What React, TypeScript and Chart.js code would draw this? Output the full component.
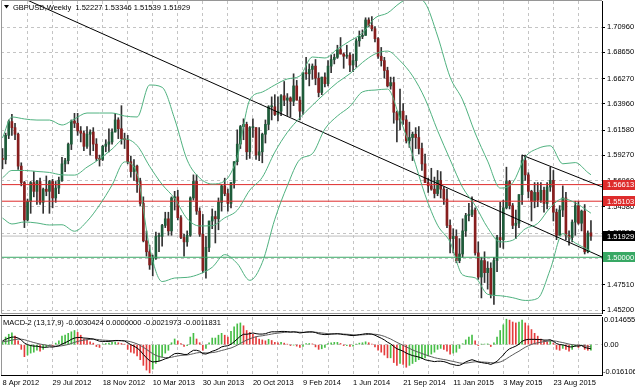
import { useEffect, useRef } from "react";
import { Chart, registerables } from "chart.js";

Chart.register(...registerables);

const FONT = '"Liberation Sans", Arial, sans-serif';
const FS = 7.5;

const symbolName = "GBPUSD";
const timeframe = "Weekly";

// weekly candles, first bar = week of 8 Apr 2012
const opens = [
  1.5900,1.5890,1.6110,1.6235,1.6180,1.6120,1.5830,1.5680,1.5340,1.5510,
  1.5680,1.5600,1.5690,1.5500,1.5620,1.5600,1.5690,1.5540,1.5630,1.5700,
  1.5850,1.5880,1.6030,1.6240,1.6220,1.6150,1.6130,1.6010,1.6120,1.6140,
  1.6030,1.5900,1.5890,1.6010,1.6030,1.6050,1.6140,1.6250,1.6170,1.6080,
  1.6070,1.5870,1.5780,1.5830,1.5690,1.5490,1.5150,1.5050,1.4930,1.4990,
  1.5190,1.5190,1.5290,1.5350,1.5240,1.5540,1.5550,1.5360,1.5180,1.5140,
  1.5200,1.5540,1.5690,1.5420,1.5210,1.4880,1.5090,1.5330,1.5370,1.5350,
  1.5500,1.5650,1.5580,1.5490,1.5680,1.5870,1.6030,1.6190,1.6210,1.5960,
  1.6180,1.6180,1.5930,1.5960,1.6120,1.6210,1.6370,1.6370,1.6300,1.6330,
  1.6470,1.6430,1.6450,1.6420,1.6560,1.6430,1.6330,1.6680,1.6670,1.6710,
  1.6740,1.6630,1.6500,1.6640,1.6580,1.6740,1.6800,1.6820,1.6890,1.6850,
  1.6830,1.6840,1.6750,1.6790,1.6970,1.7010,1.7020,1.7160,1.7110,1.7080,
  1.6990,1.6830,1.6790,1.6700,1.6560,1.6590,1.6320,1.6250,1.6330,1.6250,
  1.6060,1.6090,1.6120,1.6090,1.5990,1.5850,1.5680,1.5650,1.5620,1.5580,
  1.5700,1.5620,1.5530,1.5290,1.5170,1.5190,1.4970,1.5030,1.5240,1.5380,
  1.5390,1.5430,1.5040,1.4820,1.4970,1.4860,1.4900,1.4660,1.4970,1.5180,
  1.5160,1.5450,1.5690,1.5470,1.5290,1.5310,1.5570,1.5880,1.5750,1.5600,
  1.5510,1.5590,1.5520,1.5610,1.5490,1.5640,1.5700,1.5410,1.5200,1.5430,
  1.5540,1.5200,1.5180,1.5320,1.5470,1.5310,1.5420,1.5050,1.52227,
];
const highs = [
  1.5990,1.6130,1.6250,1.6300,1.6220,1.6130,1.5860,1.5690,1.5530,1.5690,
  1.5780,1.5700,1.5720,1.5630,1.5740,1.5700,1.5710,1.5690,1.5730,1.5910,
  1.5900,1.6040,1.6250,1.6310,1.6310,1.6190,1.6150,1.6190,1.6160,1.6180,
  1.6080,1.5930,1.6020,1.6070,1.6170,1.6170,1.6310,1.6270,1.6380,1.6130,
  1.6110,1.5920,1.5890,1.5840,1.5720,1.5550,1.5240,1.5110,1.5020,1.5230,
  1.5220,1.5300,1.5410,1.5410,1.5550,1.5600,1.5610,1.5380,1.5210,1.5240,
  1.5550,1.5750,1.5750,1.5450,1.5390,1.5190,1.5330,1.5440,1.5420,1.5540,
  1.5660,1.5720,1.5620,1.5680,1.5870,1.6160,1.6200,1.6260,1.6230,1.6190,
  1.6260,1.6180,1.6180,1.6130,1.6250,1.6380,1.6460,1.6480,1.6460,1.6480,
  1.6600,1.6490,1.6460,1.6670,1.6610,1.6460,1.6680,1.6820,1.6760,1.6760,
  1.6800,1.6680,1.6640,1.6680,1.6790,1.6840,1.6850,1.6930,1.7000,1.6860,
  1.6930,1.6860,1.6850,1.6990,1.7060,1.7070,1.7180,1.7180,1.7190,1.7100,
  1.7000,1.6910,1.6820,1.6730,1.6640,1.6640,1.6330,1.6530,1.6400,1.6290,
  1.6230,1.6140,1.6180,1.6190,1.6040,1.5940,1.5720,1.5810,1.5730,1.5790,
  1.5780,1.5640,1.5620,1.5340,1.5260,1.5250,1.5170,1.5350,1.5400,1.5490,
  1.5550,1.5450,1.5140,1.5000,1.5050,1.4960,1.4950,1.5000,1.5200,1.5500,
  1.5520,1.5820,1.5700,1.5490,1.5430,1.5570,1.5930,1.5930,1.5770,1.5610,
  1.5680,1.5680,1.5680,1.5640,1.5680,1.5820,1.5790,1.5440,1.5470,1.5650,
  1.5590,1.5240,1.5340,1.5510,1.5510,1.5430,1.5480,1.5240,1.53346,
];
const lows = [
  1.5805,1.5850,1.6080,1.6110,1.6070,1.5800,1.5650,1.5270,1.5330,1.5400,
  1.5550,1.5480,1.5480,1.5400,1.5560,1.5400,1.5450,1.5500,1.5580,1.5690,
  1.5780,1.5850,1.5980,1.6180,1.6110,1.6050,1.5970,1.5990,1.5930,1.5970,
  1.5880,1.5830,1.5880,1.5960,1.5960,1.6030,1.6140,1.6080,1.6030,1.5990,
  1.5850,1.5730,1.5700,1.5590,1.5470,1.5140,1.5010,1.4890,1.4830,1.4980,
  1.5050,1.5100,1.5270,1.5200,1.5200,1.5430,1.5340,1.5170,1.5010,1.5100,
  1.5190,1.5520,1.5390,1.5190,1.4860,1.4810,1.5050,1.5260,1.5130,1.5250,
  1.5420,1.5560,1.5420,1.5450,1.5630,1.5840,1.5990,1.6070,1.5890,1.5900,
  1.6090,1.5890,1.5880,1.5860,1.6040,1.6160,1.6250,1.6290,1.6240,1.6290,
  1.6380,1.6290,1.6280,1.6380,1.6430,1.6250,1.6300,1.6620,1.6560,1.6620,
  1.6570,1.6460,1.6480,1.6550,1.6560,1.6680,1.6760,1.6810,1.6850,1.6720,
  1.6810,1.6690,1.6690,1.6730,1.6920,1.6990,1.7020,1.7100,1.7060,1.6960,
  1.6810,1.6740,1.6630,1.6550,1.6530,1.6220,1.6050,1.6160,1.6210,1.6040,
  1.6000,1.5880,1.5990,1.5940,1.5790,1.5680,1.5590,1.5610,1.5540,1.5560,
  1.5540,1.5480,1.5270,1.5040,1.5040,1.4950,1.4950,1.5000,1.5190,1.5330,
  1.5370,1.5020,1.4800,1.4630,1.4770,1.4710,1.4630,1.4570,1.4870,1.5090,
  1.5080,1.5440,1.5440,1.5260,1.5170,1.5270,1.5480,1.5700,1.5540,1.5330,
  1.5450,1.5460,1.5500,1.5410,1.5440,1.5600,1.5330,1.5160,1.5200,1.5370,
  1.5160,1.5110,1.5140,1.5200,1.5300,1.5240,1.5030,1.5040,1.51539,
];
const closes = [
  1.5890,1.6110,1.6235,1.6180,1.6120,1.5830,1.5680,1.5340,1.5510,1.5680,
  1.5600,1.5690,1.5500,1.5620,1.5600,1.5690,1.5540,1.5630,1.5700,1.5850,
  1.5880,1.6030,1.6240,1.6220,1.6150,1.6130,1.6010,1.6120,1.6140,1.6030,
  1.5900,1.5890,1.6010,1.6030,1.6050,1.6140,1.6250,1.6170,1.6080,1.6070,
  1.5870,1.5780,1.5830,1.5690,1.5490,1.5150,1.5050,1.4930,1.4990,1.5190,
  1.5190,1.5290,1.5350,1.5240,1.5540,1.5550,1.5360,1.5180,1.5140,1.5200,
  1.5540,1.5690,1.5420,1.5210,1.4880,1.5090,1.5330,1.5370,1.5350,1.5500,
  1.5650,1.5580,1.5490,1.5680,1.5870,1.6030,1.6190,1.6210,1.5960,1.6180,
  1.6180,1.5930,1.5960,1.6120,1.6210,1.6370,1.6370,1.6300,1.6330,1.6470,
  1.6430,1.6450,1.6420,1.6560,1.6430,1.6330,1.6680,1.6670,1.6710,1.6740,
  1.6630,1.6500,1.6640,1.6580,1.6740,1.6800,1.6820,1.6890,1.6850,1.6830,
  1.6840,1.6750,1.6790,1.6970,1.7010,1.7020,1.7160,1.7110,1.7080,1.6990,
  1.6830,1.6790,1.6700,1.6560,1.6590,1.6320,1.6250,1.6330,1.6250,1.6060,
  1.6090,1.6120,1.6090,1.5990,1.5850,1.5680,1.5650,1.5620,1.5580,1.5700,
  1.5620,1.5530,1.5290,1.5170,1.5190,1.4970,1.5030,1.5240,1.5380,1.5390,
  1.5430,1.5040,1.4820,1.4970,1.4860,1.4900,1.4660,1.4970,1.5180,1.5160,
  1.5450,1.5690,1.5470,1.5290,1.5310,1.5570,1.5880,1.5750,1.5600,1.5510,
  1.5590,1.5520,1.5610,1.5490,1.5640,1.5700,1.5410,1.5200,1.5430,1.5540,
  1.5200,1.5180,1.5320,1.5470,1.5310,1.5420,1.5050,1.5220,1.51929,
];

// Bollinger bands read at these bars
const bandBars = [0,3,7,11,15,19,23,27,31,35,39,43,47,51,55,59,63,67,71,75,79,83,87,91,95,99,103,107,111,115,119,123,127,131,135,139,143,147,151,155,159,163,167,171,175,179,183,187,188];
const bbUpper = [1.6086,1.6277,1.6259,1.6249,1.6249,1.6204,1.6259,1.6313,1.6313,1.6313,1.6286,1.6277,1.6568,1.6547,1.6259,1.5885,1.5722,1.5667,1.5694,1.5913,1.6432,1.6504,1.6568,1.6623,1.6650,1.6823,1.6814,1.6896,1.6969,1.7041,1.7178,1.7223,1.7315,1.7369,1.7315,1.7014,1.6640,1.6432,1.6131,1.5875,1.5630,1.5678,1.5911,1.5990,1.6015,1.5851,1.5862,1.5772,1.5751];
const bbMiddle = [1.5722,1.5790,1.5790,1.5781,1.5772,1.5750,1.5748,1.5820,1.5894,1.5985,1.6077,1.6017,1.5828,1.5663,1.5535,1.5351,1.5285,1.5288,1.5359,1.5428,1.5611,1.5728,1.5957,1.6137,1.6270,1.6383,1.6491,1.6591,1.6671,1.6773,1.6850,1.6877,1.6789,1.6651,1.6442,1.6153,1.5889,1.5636,1.5472,1.5269,1.5140,1.5155,1.5259,1.5308,1.5452,1.5533,1.5496,1.5421,1.5401];
const bbLower = [1.5357,1.5303,1.5321,1.5312,1.5294,1.5296,1.5237,1.5327,1.5475,1.5657,1.5868,1.5757,1.5088,1.4779,1.4811,1.4817,1.4848,1.4909,1.5024,1.4943,1.4790,1.4952,1.5346,1.5651,1.5890,1.5943,1.6168,1.6286,1.6373,1.6505,1.6522,1.6531,1.6263,1.5933,1.5569,1.5292,1.5138,1.4840,1.4813,1.4663,1.4650,1.4632,1.4607,1.4626,1.4889,1.5215,1.5130,1.5070,1.5051];

const macdHist = [
  0.0015,0.0040,0.0055,0.0062,0.0045,0.0020,-0.0025,-0.0064,-0.0055,-0.0045,
  -0.0040,-0.0030,-0.0035,-0.0025,-0.0012,-0.0005,-0.0008,0.0008,0.0020,0.0045,
  0.0050,0.0060,0.0068,0.0075,0.0065,0.0050,0.0030,0.0025,0.0015,0.0008,
  -0.0010,-0.0015,0.0003,0.0006,0.0008,0.0012,0.0014,0.0010,0.0006,0.0002,
  -0.0025,-0.0040,-0.0045,-0.0060,-0.0080,-0.0110,-0.0135,-0.0150,-0.0130,-0.0100,
  -0.0085,-0.0065,-0.0045,-0.0030,0.0010,0.0030,0.0020,0.0005,-0.0010,-0.0005,
  0.0040,0.0060,0.0030,0.0010,-0.0030,-0.0020,0.0010,0.0035,0.0035,0.0050,
  0.0060,0.0050,0.0040,0.0070,0.0095,0.0110,0.0115,0.0100,0.0075,0.0065,
  0.0055,0.0040,0.0030,0.0025,0.0020,0.0028,0.0022,0.0012,0.0010,0.0012,
  0.0008,0.0002,-0.0005,-0.0002,-0.0008,-0.0015,-0.0010,0.0005,0.0006,0.0004,
  -0.0012,-0.0025,-0.0022,-0.0015,0.0005,0.0010,0.0012,0.0012,0.0006,-0.0005,
  -0.0005,-0.0010,-0.0008,0.0003,0.0008,0.0010,0.0015,0.0010,0.0002,-0.0012,
  -0.0030,-0.0040,-0.0055,-0.0070,-0.0070,-0.0095,-0.0110,-0.0100,-0.0105,-0.0120,
  -0.0110,-0.0100,-0.0090,-0.0080,-0.0075,-0.0070,-0.0060,-0.0050,-0.0040,-0.0025,
  -0.0020,-0.0025,-0.0035,-0.0050,-0.0045,-0.0040,-0.0020,0.0005,0.0025,0.0040,
  0.0050,0.0020,-0.0005,0.0003,0.0003,0.0004,-0.0010,0.0010,0.0040,0.0075,
  0.0105,0.0135,0.0130,0.0120,0.0115,0.0120,0.0130,0.0115,0.0100,0.0080,
  0.0060,0.0045,0.0030,0.0020,0.0015,0.0020,0.0008,-0.0025,-0.0030,-0.0020,
  -0.0025,-0.0035,-0.0025,-0.0010,-0.0015,-0.0005,-0.0025,-0.0030,-0.0030,
];
const macdMain = [
  0.0020,0.0028,0.0035,0.0040,0.0040,0.0035,0.0025,0.0008,0.0000,-0.0005,
  -0.0008,-0.0008,-0.0012,-0.0014,-0.0014,-0.0012,-0.0013,-0.0010,-0.0006,0.0003,
  0.0010,0.0018,0.0028,0.0035,0.0038,0.0038,0.0035,0.0034,0.0032,0.0030,
  0.0024,0.0018,0.0017,0.0017,0.0017,0.0019,0.0022,0.0022,0.0021,0.0019,
  0.0010,0.0000,-0.0008,-0.0018,-0.0032,-0.0052,-0.0070,-0.0085,-0.0092,-0.0090,
  -0.0088,-0.0082,-0.0075,-0.0070,-0.0058,-0.0048,-0.0046,-0.0048,-0.0052,-0.0052,
  -0.0040,-0.0030,-0.0030,-0.0035,-0.0048,-0.0050,-0.0043,-0.0035,-0.0030,-0.0022,
  -0.0012,-0.0008,-0.0006,0.0002,0.0015,0.0030,0.0045,0.0055,0.0055,0.0058,
  0.0062,0.0058,0.0056,0.0056,0.0058,0.0064,0.0068,0.0068,0.0068,0.0070,
  0.0070,0.0069,0.0067,0.0068,0.0066,0.0062,0.0064,0.0067,0.0068,0.0068,
  0.0064,0.0058,0.0055,0.0053,0.0054,0.0056,0.0057,0.0058,0.0056,0.0053,
  0.0052,0.0049,0.0048,0.0050,0.0053,0.0055,0.0058,0.0058,0.0056,0.0050,
  0.0042,0.0034,0.0025,0.0013,0.0004,-0.0010,-0.0022,-0.0028,-0.0035,-0.0045,
  -0.0052,-0.0058,-0.0062,-0.0066,-0.0072,-0.0080,-0.0084,-0.0087,-0.0090,-0.0088,
  -0.0088,-0.0090,-0.0095,-0.0102,-0.0105,-0.0110,-0.0110,-0.0102,-0.0092,-0.0085,
  -0.0080,-0.0085,-0.0092,-0.0095,-0.0098,-0.0100,-0.0105,-0.0098,-0.0088,-0.0072,
  -0.0055,-0.0035,-0.0022,-0.0015,-0.0008,0.0002,0.0018,0.0025,0.0028,0.0028,
  0.0028,0.0027,0.0027,0.0024,0.0024,0.0026,0.0018,0.0006,0.0000,-0.0001,
  -0.0006,-0.0012,-0.0012,-0.0007,-0.0008,-0.0005,-0.0015,-0.0019,-0.0022,
];
const macdSignal = [
  0.0015,0.0017,0.0020,0.0024,0.0027,0.0029,0.0029,0.0026,0.0021,0.0016,
  0.0011,0.0007,0.0003,0.0000,-0.0003,-0.0005,-0.0007,-0.0008,-0.0008,-0.0006,
  -0.0003,0.0001,0.0006,0.0012,0.0017,0.0021,0.0024,0.0026,0.0028,0.0029,
  0.0028,0.0026,0.0024,0.0023,0.0022,0.0021,0.0021,0.0021,0.0021,0.0021,
  0.0019,0.0015,0.0010,0.0004,-0.0004,-0.0014,-0.0025,-0.0037,-0.0048,-0.0057,
  -0.0063,-0.0067,-0.0069,-0.0069,-0.0067,-0.0063,-0.0060,-0.0057,-0.0056,-0.0055,
  -0.0052,-0.0048,-0.0044,-0.0042,-0.0043,-0.0044,-0.0044,-0.0042,-0.0040,-0.0036,
  -0.0031,-0.0027,-0.0022,-0.0018,-0.0011,-0.0003,0.0006,0.0016,0.0024,0.0031,
  0.0037,0.0042,0.0045,0.0047,0.0050,0.0053,0.0056,0.0059,0.0061,0.0063,
  0.0065,0.0066,0.0066,0.0067,0.0067,0.0066,0.0065,0.0065,0.0066,0.0066,
  0.0066,0.0064,0.0062,0.0060,0.0058,0.0057,0.0057,0.0057,0.0057,0.0056,
  0.0055,0.0054,0.0052,0.0051,0.0051,0.0052,0.0053,0.0054,0.0055,0.0055,
  0.0053,0.0049,0.0044,0.0037,0.0030,0.0021,0.0012,0.0004,-0.0004,-0.0012,
  -0.0020,-0.0028,-0.0035,-0.0041,-0.0047,-0.0053,-0.0059,-0.0064,-0.0069,-0.0073,
  -0.0076,-0.0079,-0.0082,-0.0086,-0.0089,-0.0093,-0.0097,-0.0099,-0.0098,-0.0096,
  -0.0093,-0.0091,-0.0091,-0.0092,-0.0093,-0.0094,-0.0096,-0.0097,-0.0096,-0.0092,
  -0.0085,-0.0075,-0.0064,-0.0054,-0.0044,-0.0035,-0.0024,-0.0014,-0.0006,0.0001,
  0.0006,0.0010,0.0013,0.0016,0.0018,0.0020,0.0020,0.0018,0.0014,0.0011,
  0.0007,0.0003,0.0000,-0.0002,-0.0003,-0.0004,-0.0006,-0.0009,-0.0012,
];
const macdParams = [13, 17, 9];
const macdHeaderValues = [-0.0030424, 0.0, -0.0021973, -0.0011831];
const macdScale = [-0.016106, 0.014655];

const priceTicks = [1.452, 1.4751, 1.4989, 1.522, 1.5458, 1.5696, 1.5927, 1.6158, 1.6396, 1.6627, 1.6865, 1.7096];
const priceRange = [1.44927, 1.73327];
const redLevels = [1.56613, 1.55103];
const greenLevels = [1.5];
const currentPrice = 1.51929;

const trendA = { bars: [7.83, 191.53], prices: [1.7342, 1.5002] };
const trendB = { bars: [166, 191.53], prices: [1.593, 1.5641] };

const dateLabels = ["8 Apr 2012", "29 Jul 2012", "18 Nov 2012", "10 Mar 2013", "30 Jun 2013", "20 Oct 2013", "9 Feb 2014", "1 Jun 2014", "21 Sep 2014", "11 Jan 2015", "3 May 2015", "23 Aug 2015"];
const labelEvery = 16;
const gridEvery = 8;
const xRange = [-0.479, 191.53];

const GRID = "rgb(196,196,196)";
const BULL = "rgb(30,92,58)";
const BEAR = "rgb(135,30,30)";
const WICK = "rgb(50,50,50)";
const BAND = "rgb(80,178,128)";
const RED = "rgb(222,44,44)";
const GREEN = "rgb(56,168,100)";

export default function App() {
  const mainRef = useRef<HTMLCanvasElement>(null);
  const macdRef = useRef<HTMLCanvasElement>(null);

  useEffect(() => {
    document.body.style.margin = "0";
    const idx = closes.map((_, i) => i);
    const gridTicks: number[] = [];
    for (let v = 0; v <= xRange[1]; v += gridEvery) gridTicks.push(v);
    const font = { family: FONT, size: FS };

    const lineDs = (data: { x: number; y: number }[], color: string, order = 0) => ({
      type: "line" as const,
      data,
      borderColor: color,
      borderWidth: 1,
      pointRadius: 0,
      fill: false,
      order,
    });

    const mainDecor = {
      id: "mainDecor",
      beforeDraw(chart: any) {
        const { ctx, width, height } = chart;
        ctx.save();
        ctx.fillStyle = "#fff";
        ctx.fillRect(0, 0, width, height);
        ctx.restore();
      },
      afterDraw(chart: any) {
        const { ctx, chartArea: a } = chart;
        const y = chart.scales.y;
        ctx.save();
        ctx.strokeStyle = "rgb(150,150,150)";
        ctx.lineWidth = 1;
        ctx.beginPath();
        ctx.moveTo(a.right, a.top - 0.5);
        ctx.lineTo(a.left + 0.5, a.top - 0.5);
        ctx.lineTo(a.left + 0.5, a.bottom + 0.5);
        ctx.lineTo(a.right, a.bottom + 0.5);
        ctx.stroke();
        ctx.font = `${FS}px ${FONT}`;
        ctx.textBaseline = "middle";
        const box = (v: number, bg: string) => {
          const py = y.getPixelForValue(v);
          ctx.fillStyle = bg;
          ctx.fillRect(a.right + 1, Math.round(py) - 5, 40, 10);
          ctx.fillStyle = "#fff";
          ctx.fillText(v.toFixed(5), a.right + 5, py + 0.5);
        };
        redLevels.forEach((v) => box(v, RED));
        greenLevels.forEach((v) => box(v, GREEN));
        box(currentPrice, "#000");
        // header
        ctx.fillStyle = "#000";
        ctx.beginPath();
        ctx.moveTo(4, 5);
        ctx.lineTo(9, 5);
        ctx.lineTo(6.5, 8.5);
        ctx.closePath();
        ctx.fill();
        const last = closes.length - 1;
        const hdr = `${symbolName},${timeframe}  ${[opens[last], highs[last], lows[last], closes[last]].map((v) => v.toFixed(5)).join(" ")}`;
        ctx.fillText(hdr, 13, 7.5);
        ctx.restore();
      },
    };

    const main = new Chart(mainRef.current as HTMLCanvasElement, {
      type: "bar",
      data: {
        datasets: [
          lineDs(bandBars.map((b, k) => ({ x: b, y: bbUpper[k] })), BAND),
          lineDs(bandBars.map((b, k) => ({ x: b, y: bbMiddle[k] })), BAND),
          lineDs(bandBars.map((b, k) => ({ x: b, y: bbLower[k] })), BAND),
          lineDs(trendA.bars.map((b, k) => ({ x: b, y: trendA.prices[k] })), "#000"),
          lineDs(trendB.bars.map((b, k) => ({ x: b, y: trendB.prices[k] })), "#000"),
          ...redLevels.map((v) => lineDs(xRange.map((x) => ({ x, y: v })), RED)),
          ...greenLevels.map((v) => lineDs(xRange.map((x) => ({ x, y: v })), GREEN)),
          lineDs(xRange.map((x) => ({ x, y: currentPrice })), "rgb(190,190,190)", 3),
          {
            type: "bar" as const,
            data: idx.map((i) => ({ x: i, y: [opens[i], closes[i]] })),
            backgroundColor: idx.map((i) => (closes[i] >= opens[i] ? BULL : BEAR)),
            borderWidth: 0,
            barThickness: 2,
            minBarLength: 1,
            grouped: false,
            order: 1,
          },
          {
            type: "bar" as const,
            data: idx.map((i) => ({ x: i, y: [lows[i], highs[i]] })),
            backgroundColor: WICK,
            borderWidth: 0,
            barThickness: 1,
            grouped: false,
            order: 2,
          },
        ] as any,
      },
      options: {
        responsive: false,
        animation: false,
        devicePixelRatio: 1,
        layout: { padding: { left: 1, top: 1, right: 0, bottom: 1 } },
        plugins: { legend: { display: false }, tooltip: { enabled: false } },
        elements: { line: { cubicInterpolationMode: "monotone" } },
        scales: {
          x: {
            type: "linear",
            min: xRange[0],
            max: xRange[1],
            offset: false,
            afterBuildTicks: (s: any) => {
              s.ticks = gridTicks.filter((v) => v > 0).map((v) => ({ value: v }));
            },
            ticks: { display: false },
            grid: { color: GRID, drawTicks: false, offset: false },
            border: { display: false, dash: [3, 3] },
            afterFit: (s: any) => {
              s.height = 0;
              s.paddingLeft = 0;
              s.paddingRight = 0;
            },
          },
          y: {
            type: "linear",
            position: "right",
            min: priceRange[0],
            max: priceRange[1],
            afterBuildTicks: (s: any) => {
              s.ticks = priceTicks.map((v) => ({ value: v }));
            },
            ticks: { callback: (v: any) => Number(v).toFixed(5), font, color: "#000", padding: 2, autoSkip: false },
            grid: { color: GRID, drawTicks: true, tickLength: 3, tickColor: "#000" },
            border: { display: true, color: "#000", dash: [3, 3] },
            afterFit: (s: any) => {
              s.width = 33;
              s.paddingTop = 0;
              s.paddingBottom = 0;
            },
          },
        },
      } as any,
      plugins: [mainDecor],
    });

    const macdDecor = {
      id: "macdDecor",
      beforeDraw(chart: any) {
        const { ctx, width, height } = chart;
        ctx.save();
        ctx.fillStyle = "#fff";
        ctx.fillRect(0, 0, width, height);
        ctx.restore();
      },
      afterDraw(chart: any) {
        const { ctx, chartArea: a } = chart;
        ctx.save();
        ctx.strokeStyle = "#000";
        ctx.lineWidth = 1;
        ctx.beginPath();
        ctx.moveTo(0, a.top - 1.5);
        ctx.lineTo(a.right, a.top - 1.5);
        ctx.stroke();
        ctx.strokeStyle = "rgb(150,150,150)";
        ctx.beginPath();
        ctx.moveTo(a.left + 0.5, a.top - 1);
        ctx.lineTo(a.left + 0.5, a.bottom);
        ctx.stroke();
        ctx.fillStyle = "#000";
        ctx.font = `${FS}px ${FONT}`;
        ctx.textBaseline = "middle";
        const hdr = `MACD-2 (${macdParams.join(",")}) ${macdHeaderValues.map((v) => v.toFixed(7)).join(" ")}`;
        ctx.fillText(hdr, 3, a.top + 6);
        ctx.fillText(macdScale[1].toFixed(6), a.right + 2, a.top + 3);
        ctx.fillText(macdScale[0].toFixed(6), a.right + 1, a.bottom - 3);
        ctx.restore();
      },
    };

    const macd = new Chart(macdRef.current as HTMLCanvasElement, {
      type: "bar",
      data: {
        datasets: [
          lineDs(idx.map((i) => ({ x: i, y: macdMain[i] })), "#000", 0),
          lineDs(idx.map((i) => ({ x: i, y: macdSignal[i] })), "rgb(90,90,90)", 0),
          {
            type: "bar" as const,
            data: idx.map((i) => ({ x: i, y: macdHist[i] })),
            backgroundColor: idx.map((i) => (i === 0 || macdHist[i] >= macdHist[i - 1] ? "rgb(70,190,70)" : "rgb(228,60,60)")),
            borderWidth: 0,
            barThickness: 1,
            grouped: false,
            order: 2,
          },
        ] as any,
      },
      options: {
        responsive: false,
        animation: false,
        devicePixelRatio: 1,
        layout: { padding: { left: 1, top: 3, right: 0, bottom: 0 } },
        plugins: { legend: { display: false }, tooltip: { enabled: false } },
        elements: { line: { tension: 0 } },
        scales: {
          x: {
            type: "linear",
            position: "bottom",
            min: xRange[0],
            max: xRange[1],
            offset: false,
            afterBuildTicks: (s: any) => {
              s.ticks = gridTicks.map((v) => ({ value: v }));
            },
            ticks: {
              autoSkip: false,
              maxRotation: 0,
              minRotation: 0,
              align: "start",
              padding: 3,
              font,
              color: "#000",
              callback: (v: any) => (Number(v) % labelEvery === 0 ? dateLabels[Number(v) / labelEvery] ?? "" : ""),
            },
            grid: {
              color: (c: any) => (c.tick && c.tick.value === 0 ? "rgba(0,0,0,0)" : GRID),
              drawTicks: false,
              offset: false,
            },
            border: { display: true, color: "#000", dash: [3, 3] },
            afterFit: (s: any) => {
              s.height = 16;
              s.paddingLeft = 0;
              s.paddingRight = 0;
            },
          },
          y: {
            type: "linear",
            position: "right",
            min: macdScale[0],
            max: macdScale[1],
            afterBuildTicks: (s: any) => {
              s.ticks = [{ value: 0 }];
            },
            ticks: { callback: () => "0.00", font, color: "#000", padding: 2 },
            grid: { color: GRID, drawTicks: false },
            border: { display: true, color: "#000", dash: [3, 3] },
            afterFit: (s: any) => {
              s.width = 33;
              s.paddingTop = 0;
              s.paddingBottom = 0;
            },
          },
        },
      } as any,
      plugins: [macdDecor],
    });

    return () => {
      main.destroy();
      macd.destroy();
    };
  }, []);

  return (
    <div style={{ position: "fixed", left: 0, top: 0, width: 635, height: 391, background: "#fff", overflow: "hidden" }}>
      <canvas ref={mainRef} width={635} height={314} style={{ position: "absolute", left: 0, top: 0, width: 635, height: 314 }} />
      <canvas ref={macdRef} width={635} height={77} style={{ position: "absolute", left: 0, top: 314, width: 635, height: 77 }} />
    </div>
  );
}
